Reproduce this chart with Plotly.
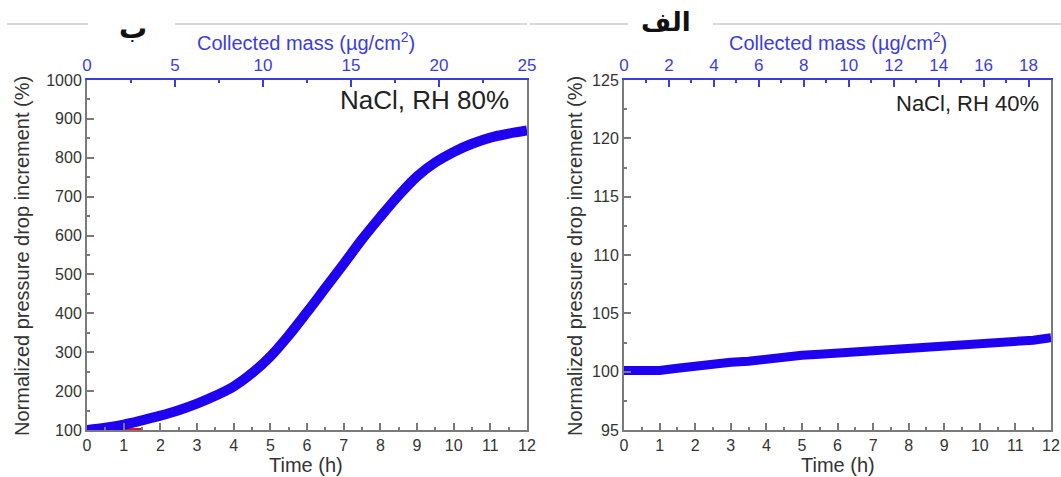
import plotly.graph_objects as go

# ---- data ----
time_h = [0, 0.5, 1, 1.5, 2, 2.5, 3, 3.5, 4, 4.5, 5, 5.5, 6, 6.5, 7, 7.5, 8, 8.5, 9, 9.5, 10, 10.5, 11, 11.5, 12]
rh80_vals = [100, 106, 114, 125, 137, 151, 168, 188, 212, 246, 289, 343, 403, 465, 527, 590, 648, 703, 752, 788, 815, 836, 852, 862, 870]
rh40_vals = [100.1, 100.1, 100.1, 100.3, 100.5, 100.6, 100.8, 100.9, 101.1, 101.2, 101.4, 101.5, 101.6, 101.6, 101.7,
             101.8, 101.9, 102.1, 102.2, 102.3, 102.4, 102.5, 102.6, 102.7, 102.9]
red_time = [0, 0.5, 1, 1.5]
red_vals = [100, 100, 100.5, 101]
mass_range_80 = [0, 25]
mass_range_40 = [0, 19]

W, H = 1061, 477
FONT = "Liberation Sans, Arial, sans-serif"
GRAY = "#333333"
AXIS = "#7a7a7a"
TOPBLUE = "#3d3ddc"
CURVE = "#2000f0"

def px(x):
    return x / W

def py(y):
    return 1 - y / H

fig = go.Figure()

# left panel
fig.add_trace(go.Scatter(x=red_time, y=red_vals, mode="lines", line=dict(color="#e01010", width=3),
                         xaxis="x", yaxis="y", showlegend=False, hoverinfo="skip"))
fig.add_trace(go.Scatter(x=time_h, y=rh80_vals, mode="lines", line=dict(color=CURVE, width=10, shape="spline"),
                         xaxis="x", yaxis="y", showlegend=False))
fig.add_trace(go.Scatter(x=mass_range_80, y=[None, None], mode="lines", xaxis="x3", yaxis="y",
                         showlegend=False, hoverinfo="skip"))
# right panel
fig.add_trace(go.Scatter(x=time_h, y=rh40_vals, mode="lines", line=dict(color=CURVE, width=9),
                         xaxis="x2", yaxis="y2", showlegend=False))
fig.add_trace(go.Scatter(x=mass_range_40, y=[None, None], mode="lines", xaxis="x4", yaxis="y2",
                         showlegend=False, hoverinfo="skip"))

dom_y = [py(430), py(80)]
dom_l = [px(87), px(527)]
dom_r = [px(624), px(1051)]

def bottom_axis(domain, anchor):
    return dict(domain=domain, anchor=anchor, range=[0, 12], dtick=1, tick0=0, automargin=False,
                showline=True, linecolor=AXIS, linewidth=2, ticks="inside", ticklen=7,
                tickcolor=AXIS, tickwidth=1.5, showgrid=False, zeroline=False,
                tickfont=dict(family=FONT, size=16, color=GRAY),
                minor=dict(ticks="inside", ticklen=3, dtick=0.5, tickcolor=AXIS, showgrid=False))

def top_axis(domain, anchor, overlay, rng, dt):
    return dict(domain=domain, anchor=anchor, overlaying=overlay, side="top", range=rng, dtick=dt, tick0=0,
                automargin=False,
                showline=True, linecolor=TOPBLUE, linewidth=2, ticks="inside", ticklen=7,
                tickcolor=TOPBLUE, tickwidth=1.5, showgrid=False, zeroline=False,
                tickfont=dict(family=FONT, size=17, color=TOPBLUE),
                minor=dict(ticks="inside", ticklen=3, dtick=dt / 2, tickcolor=TOPBLUE, showgrid=False))

def left_axis(anchor, rng, dt):
    return dict(domain=dom_y, anchor=anchor, range=rng, dtick=dt, tick0=rng[0], automargin=False,
                showline=True, mirror=True, linecolor=AXIS, linewidth=2, ticks="inside", ticklen=7,
                tickcolor=AXIS, tickwidth=1.5, showgrid=False, zeroline=False,
                tickfont=dict(family=FONT, size=16, color=GRAY),
                minor=dict(ticks="inside", ticklen=3, dtick=dt / 2, tickcolor=AXIS, showgrid=False))

fig.update_layout(
    template="none",
    width=W, height=H,
    margin=dict(l=0, r=0, t=0, b=0, autoexpand=False),
    paper_bgcolor="white", plot_bgcolor="white",
    xaxis=bottom_axis(dom_l, "y"),
    xaxis2=bottom_axis(dom_r, "y2"),
    xaxis3=top_axis(dom_l, "y", "x", mass_range_80, 5),
    xaxis4=top_axis(dom_r, "y2", "x2", mass_range_40, 2),
    yaxis=left_axis("x", [100, 1000], 100),
    yaxis2=left_axis("x2", [95, 125], 5),
)

def note(x, y, text, size, color, family=FONT, xanchor="center", angle=0):
    return dict(x=px(x), y=py(y), xref="paper", yref="paper", text=text, textangle=angle,
                xanchor=xanchor, yanchor="middle", showarrow=False,
                font=dict(family=family, size=size, color=color))

ann = []
ytitle = "Normalized pressure drop increment (%)"
for xc in (22, 575):
    ann.append(note(xc, 256, ytitle, 20, GRAY, angle=-90))
for xc in (306, 838):
    ann.append(note(xc, 465, "Time (h)", 20, GRAY))
    ann.append(note(xc, 42, "Collected mass (µg/cm<sup>2</sup>)", 20, TOPBLUE))
ann.append(note(511, 100, "NaCl, RH 80%", 26, "#222222", xanchor="right"))
ann.append(note(1041, 103, "NaCl, RH 40%", 22, "#222222", xanchor="right"))
ann.append(note(133, 29, "<b>ب</b>", 28, "#111111", family="DejaVu Sans"))
ann.append(note(666, 22, "<b>الف</b>", 26, "#111111", family="DejaVu Sans"))

shapes = []
for x0, x1 in ((7, 88), (175, 527), (530, 628), (713, 1061)):
    shapes.append(dict(type="line", xref="paper", yref="paper", x0=px(x0), x1=px(x1), y0=py(24), y1=py(24),
                       line=dict(color="#cccccc", width=1.5)))

fig.update_layout(annotations=ann, shapes=shapes)
fig.write_html("out.html", config={"displayModeBar": False},
               post_script="document.body.style.margin='0';document.body.style.overflow='hidden';")
